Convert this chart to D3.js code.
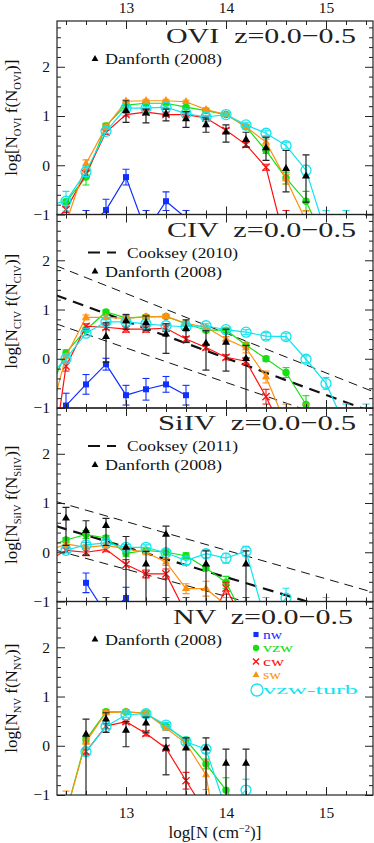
<!DOCTYPE html>
<html>
<head>
<meta charset="utf-8">
<script src="https://cdn.jsdelivr.net/npm/d3@7"></script>
<style>
html,body{margin:0;padding:0;background:#fff;}
svg{display:block;}
</style>
</head>
<body>
<svg id="chart" width="374" height="843"></svg>
<script>
// ================= DATA =================
const logN = [12.2,12.4,12.6,12.8,13.0,13.2,13.4,13.6,13.8,14.0,14.2,14.4,14.6,14.8,15.0,15.2,15.4];
const xMajorTicks = [13,14,15];
const yMajorTicks = [-1,0,1,2];
const ions = ["OVI","CIV","SiIV","NV"];
const redshiftRange = "z=0.0\u22120.5";
const modelNames = ["nw","vzw","cw","sw","vzw-turb"];
const danforthLabel = "Danforth (2008)";
const cookseyLabels = [null,"Cooksey (2010)","Cooksey (2011)",null];

// ---- OVI ----
const oviNw     = [null,null,-1.30,-0.91,-0.24,-1.35,-0.73,-1.07,null,null,null,null,null,null,null,null,null];
const oviNwErr  = [0,0,0.38,0.22,0.16,0.43,0.19,0.15,0,0,0,0,0,0,0,0,0];
const oviVzw    = [null,-0.74,-0.24,0.80,1.22,1.26,1.26,1.18,1.11,1.03,0.78,0.30,-0.26,-0.73,-1.60,null,null];
const oviVzwErr = [0,0.05,0.16,0.05,0.04,0.03,0.03,0.03,0.03,0.03,0.04,0.06,0.12,0.20,0,0,0];
const oviCw     = [-1.30,-0.90,-0.17,0.67,1.03,1.08,1.03,1.03,0.96,0.71,0.42,-0.04,-1.64,null,null,null,null];
const oviCwErr  = [0,0.06,0.05,0.04,0.03,0.03,0.03,0.03,0.03,0.04,0.05,0.06,0.72,0,0,0,0];
const oviSw     = [null,-1.18,0.03,0.78,1.30,1.31,1.31,1.29,1.13,1.03,0.78,0.47,-0.28,-1.13,null,null,null];
const oviSwErr  = [0,0,0.08,0.04,0.03,0.03,0.03,0.03,0.03,0.03,0.04,0.06,0.10,0.21,0,0,0];
const oviTurb   = [-0.82,-0.73,-0.13,0.69,1.16,1.16,1.18,1.05,0.98,1.03,0.82,0.65,0.40,-0.10,-1.39,-1.30,null];
const oviTurbErr= [0,0.20,0.10,0.04,0.03,0.03,0.03,0.03,0.03,0.03,0.04,0.05,0.07,0.10,0.47,0.38,0];
const oviDanX   = [13.0,13.2,13.4,13.6,13.8,14.0,14.2,14.4,14.6,14.8];
const oviDan    = [1.11,1.06,1.04,0.94,0.82,0.67,0.52,0.35,-0.07,-0.22];
const oviDanHi  = [0.20,0.08,0.10,0.15,0.14,0.15,0.15,0.22,0.37,0.43];
const oviDanLo  = [0.24,0.20,0.14,0.17,0.15,0.20,0.15,0.25,0.47,0.53];

// ---- CIV ----
const civNw     = [null,-0.95,-0.52,-0.11,-0.74,-0.62,-0.52,-0.74,null,null,null,null,null,null,null,null,null];
const civNwErr  = [0,0.25,0.20,0.12,0.20,0.22,0.16,0.20,0,0,0,0,0,0,0,0,0];
const civVzw    = [-0.80,0.12,0.59,0.95,0.83,0.85,0.86,0.71,0.58,0.58,0.28,0.00,-0.28,-0.93,-1.60,null,null];
const civVzwErr = [0,0.06,0.05,0.04,0.04,0.04,0.04,0.04,0.04,0.04,0.05,0.05,0.10,0.18,0,0,0];
const civCw     = [-3.00,-0.15,0.66,0.64,0.60,0.60,0.62,0.40,0.23,0.03,-0.05,-0.77,-1.60,null,null,null,null];
const civCwErr  = [0,0.10,0.05,0.05,0.06,0.06,0.06,0.05,0.05,0.05,0.07,0.15,0,0,0,0,0];
const civSw     = [-1.47,0.05,0.84,0.84,0.82,0.85,0.86,0.72,0.64,0.40,0.22,-0.37,-1.34,-1.40,null,null,null];
const civSwErr  = [0,0.05,0.05,0.04,0.04,0.04,0.04,0.04,0.04,0.05,0.10,0.12,0.42,0.48,0,0,0];
const civTurb   = [-0.42,0.00,0.52,0.75,0.75,0.71,0.67,0.65,0.67,0.59,0.54,0.46,0.45,-0.01,-0.50,-1.40,-1.40];
const civTurbErr= [0,0.06,0.05,0.04,0.04,0.04,0.04,0.04,0.04,0.04,0.05,0.07,0.07,0.07,0.12,0.48,0.48];
const civDanX   = [12.8,13.0,13.2,13.4,13.6,13.8,14.0,14.2];
const civDan    = [0.45,0.77,0.73,0.50,0.61,0.31,0.33,0.00];
const civDanHi  = [0.28,0.13,0.14,0.21,0.18,0.26,0.27,0.27];
const civDanLo  = [0.52,0.17,0.15,0.39,0.28,0.54,0.58,1.00];
const civCookseyX   = [12.3,15.5];
const civCookseyMid = [1.29,-1.11];
const civCookseyHi  = [1.89,-0.69];
const civCookseyLo  = [0.71,-1.53];

// ---- SiIV ----
const siivNw     = [null,null,-0.62,-1.25,-0.93,null,-1.30,null,null,null,null,null,null,null,null,null,null];
const siivNwErr  = [0,0,0.20,0.33,0.22,0,0.38,0,0,0,0,0,0,0,0,0,0];
const siivVzw    = [0.10,0.25,0.36,0.29,-0.02,0.04,0.00,-0.07,-0.32,-0.61,-1.40,null,null,null,null,null,null];
const siivVzwErr = [0,0.05,0.08,0.05,0.06,0.05,0.05,0.06,0.05,0.12,0,0,0,0,0,0,0];
const siivCw     = [-0.20,0.04,0.00,0.06,-0.25,-0.44,-0.44,-1.24,-1.60,-0.73,-1.50,null,null,null,null,null,null];
const siivCwErr  = [0,0.05,0.07,0.05,0.10,0.08,0.10,0.32,0,0.12,0.58,0,0,0,0,0,0];
const siivSw     = [0.00,0.17,0.10,0.14,0.07,0.00,-0.20,-0.74,-0.74,-1.07,null,null,null,null,null,null,null];
const siivSwErr  = [0,0.05,0.05,0.05,0.05,0.05,0.07,0.10,0.15,0.15,0,0,0,0,0,0,0];
const siivTurb   = [null,0.04,0.15,0.19,0.10,0.10,-0.01,-0.17,-0.03,-0.12,0.02,-1.44,-0.93,null,-1.30,null,null];
const siivTurbErr= [0,0.05,0.05,0.05,0.06,0.05,0.06,0.08,0.08,0.10,0.10,0.52,0.20,0,0.38,0,0];
const siivDanX   = [12.4,12.6,12.8,13.0,13.2,13.4,13.8,14.2];
const siivDan    = [0.69,0.44,0.54,0.10,-0.24,0.36,-0.24,-0.24];
const siivDanHi  = [0.22,0.20,0.15,0.22,0.26,0.17,0.27,0.27];
const siivDanLo  = [0.55,0.50,0.40,1.20,1.00,1.40,1.00,1.00];
const siivCookseyX   = [12.3,15.5];
const siivCookseyMid = [0.53,-1.42];
const siivCookseyHi  = [1.03,-0.83];
const siivCookseyLo  = [0.04,-1.72];

// ---- NV ----
const nvNw     = [null,null,null,null,null,null,null,null,null,null,null,null,null,null,null,null,null];
const nvNwErr  = [0,0,0,0,0,0,0,0,0,0,0,0,0,0,0,0,0];
const nvVzw    = [null,-1.37,0.12,0.69,0.69,0.66,0.39,0.12,-0.37,-0.90,-1.50,null,null,null,null,null,null];
const nvVzwErr = [0,0,0.05,0.04,0.04,0.04,0.04,0.05,0.10,0.25,0,0,0,0,0,0,0];
const nvCw     = [null,null,-0.12,0.40,0.49,0.25,-0.05,-0.71,-1.35,null,null,null,null,null,null,null,null];
const nvCwErr  = [0,0,0.05,0.05,0.04,0.05,0.05,0.17,0,0,0,0,0,0,0,0,0];
const nvSw     = [null,-1.37,0.08,0.67,0.69,0.66,0.36,0.05,-0.59,-3.00,null,null,null,null,null,null,null];
const nvSwErr  = [0,0.45,0.05,0.04,0.04,0.04,0.05,0.10,0.30,0,0,0,0,0,0,0,0];
const nvTurb   = [null,null,-0.12,0.39,0.63,0.65,0.42,0.08,-0.07,-1.30,-0.90,null,null,null,null,null,null];
const nvTurbErr= [0,0,0.08,0.05,0.05,0.05,0.05,0.06,0.08,0,0.22,0,0,0,0,0,0];
const nvDanX   = [12.6,12.8,13.0,13.2,13.4,13.6,13.8,14.0,14.2];
const nvDan    = [0.23,0.54,0.31,0.46,-0.05,-0.05,-0.05,-0.36,-0.36];
const nvDanHi  = [0.31,0.13,0.18,0.12,0.21,0.21,0.21,0.29,0.29];
const nvDanLo  = [1.30,0.27,0.33,0.20,0.54,1.00,1.00,1.00,1.00];

// ================= STYLE / LAYOUT =================
const modelStyle = {
  "nw":       {color:"#1030ff", marker:"square"},
  "vzw":      {color:"#14e014", marker:"dot"},
  "cw":       {color:"#ff1010", marker:"x"},
  "sw":       {color:"#ff9010", marker:"tri"},
  "vzw-turb": {color:"#10e4f0", marker:"ocircle"}
};
const serif = "'Liberation Serif','DejaVu Serif',serif";
const left = 57, right = 373, top0 = 21, ph = 193.5;
const yDomain = [-1, 2.93];

const panels = [
  {series:[[oviNw,oviNwErr],[oviVzw,oviVzwErr],[oviCw,oviCwErr],[oviSw,oviSwErr],[oviTurb,oviTurbErr]],
   dan:[oviDanX,oviDan,oviDanHi,oviDanLo], cook:null},
  {series:[[civNw,civNwErr],[civVzw,civVzwErr],[civCw,civCwErr],[civSw,civSwErr],[civTurb,civTurbErr]],
   dan:[civDanX,civDan,civDanHi,civDanLo], cook:[civCookseyX,civCookseyMid,civCookseyHi,civCookseyLo]},
  {series:[[siivNw,siivNwErr],[siivVzw,siivVzwErr],[siivCw,siivCwErr],[siivSw,siivSwErr],[siivTurb,siivTurbErr]],
   dan:[siivDanX,siivDan,siivDanHi,siivDanLo], cook:[siivCookseyX,siivCookseyMid,siivCookseyHi,siivCookseyLo]},
  {series:[[nvNw,nvNwErr],[nvVzw,nvVzwErr],[nvCw,nvCwErr],[nvSw,nvSwErr],[nvTurb,nvTurbErr]],
   dan:[nvDanX,nvDan,nvDanHi,nvDanLo], cook:null}
];
const titleLen = [190,189,198,180];
const titleEnd = [356,356,356,353];

const svg = d3.select("#chart");
const x = d3.scaleLinear().domain([12.31, 15.47]).range([left, right]);
const xMinor = d3.range(12.4, 15.45, 0.2).map(v => +v.toFixed(1));
const yMinor = d3.range(-0.8, 2.95, 0.2).map(v => +v.toFixed(1));
const fmt = d => d < 0 ? "\u2212" + Math.abs(d) : String(d);

function drawMarker(g, type, cx, cy, color, scale) {
  const s = scale || 1;
  if (type === "square") {
    g.append("rect").attr("x", cx - 3*s).attr("y", cy - 3*s).attr("width", 6*s).attr("height", 6*s).attr("fill", color);
  } else if (type === "dot") {
    g.append("circle").attr("cx", cx).attr("cy", cy).attr("r", 3.7*s).attr("fill", color);
  } else if (type === "x") {
    const a = 3.6*s;
    g.append("path").attr("d", `M${cx-a},${cy-a}L${cx+a},${cy+a}M${cx-a},${cy+a}L${cx+a},${cy-a}`)
      .attr("stroke", color).attr("stroke-width", 1.3).attr("fill", "none");
  } else if (type === "tri") {
    g.append("path").attr("d", d3.symbol(d3.symbolTriangle, 28*s*s)()).attr("transform", `translate(${cx},${cy})`).attr("fill", color);
  } else if (type === "ocircle") {
    g.append("circle").attr("cx", cx).attr("cy", cy).attr("r", 5*s).attr("fill", "none").attr("stroke", color).attr("stroke-width", 1.3);
  }
}

function errBar(g, cx, y1, y2, color, w) {
  g.append("line").attr("x1", cx).attr("x2", cx).attr("y1", y1).attr("y2", y2).attr("stroke", color).attr("stroke-width", w);
  [y1, y2].forEach(yy => g.append("line").attr("x1", cx - 3.5).attr("x2", cx + 3.5).attr("y1", yy).attr("y2", yy)
    .attr("stroke", color).attr("stroke-width", w));
}

panels.forEach((p, i) => {
  const top = top0 + i*ph, bottom = top + ph;
  const y = d3.scaleLinear().domain(yDomain).range([bottom, top]);
  const clipId = "clip" + i;
  svg.append("clipPath").attr("id", clipId).append("rect")
    .attr("x", left).attr("y", top).attr("width", right - left).attr("height", ph);
  const plot = svg.append("g").attr("clip-path", `url(#${clipId})`);

  // Cooksey power-law fits
  if (p.cook) {
    const [cx, mid, hi, lo] = p.cook;
    const ln = d3.line().x(d => x(d[0])).y(d => y(d[1]));
    [[hi,1,"9,6"],[lo,1,"9,6"],[mid,2.2,"11,7"]].forEach(([arr, w, da]) => {
      plot.append("path").attr("d", ln(cx.map((v, k) => [v, arr[k]])))
        .attr("fill", "none").attr("stroke", "#111").attr("stroke-width", w).attr("stroke-dasharray", da);
    });
  }

  // model series
  [0, 1, 2, 3, 4].forEach(m => {
    const [vals, errs] = p.series[m];
    const st = modelStyle[modelNames[m]];
    const pts = logN.map((n, k) => ({n, v: vals[k], e: errs[k]}));
    const line = d3.line().defined(d => d.v !== null).x(d => x(d.n)).y(d => y(d.v));
    plot.append("path").attr("d", line(pts)).attr("fill", "none").attr("stroke", st.color).attr("stroke-width", 1.2);
    const gg = plot.append("g");
    pts.filter(d => d.v !== null && d.e > 0).forEach(d => errBar(gg, x(d.n), y(d.v - d.e), y(d.v + d.e), st.color, 1.1));
    pts.filter(d => d.v !== null).forEach(d => drawMarker(gg, st.marker, x(d.n), y(d.v), st.color));
  });

  // Danforth (2008) data
  const [dx, dv, dh, dl] = p.dan;
  const dg = plot.append("g");
  dx.forEach((n, k) => errBar(dg, x(n), y(dv[k] - dl[k]), y(dv[k] + dh[k]), "#222", 1.2));
  dx.forEach((n, k) => drawMarker(dg, "tri", x(n), y(dv[k]), "#000"));

  // axes
  const ax = svg.append("g").attr("class", "axes");
  const styleAxis = sel => {
    sel.select(".domain").remove();
    sel.selectAll("line").attr("stroke", "#222").attr("stroke-width", 1);
    sel.selectAll("text").attr("font-family", serif).attr("font-size", 15.5).attr("fill", "#111");
  };
  const xm = xMinor.filter(v => !xMajorTicks.includes(v));
  const ym = yMinor.filter(v => !yMajorTicks.includes(v));
  ax.append("g").attr("transform", `translate(0,${bottom})`)
    .call(d3.axisBottom(x).tickValues(xMajorTicks).tickSize(-8).tickPadding(12).tickFormat(i === 3 ? fmt : () => "")).call(styleAxis);
  ax.append("g").attr("transform", `translate(0,${bottom})`)
    .call(d3.axisBottom(x).tickValues(xm).tickSize(-4).tickFormat(() => "")).call(styleAxis);
  ax.append("g").attr("transform", `translate(0,${top})`)
    .call(d3.axisTop(x).tickValues(xMajorTicks).tickSize(-8).tickPadding(8.5).tickFormat(i === 0 ? fmt : () => "")).call(styleAxis);
  ax.append("g").attr("transform", `translate(0,${top})`)
    .call(d3.axisTop(x).tickValues(xm).tickSize(-4).tickFormat(() => "")).call(styleAxis);
  ax.append("g").attr("transform", `translate(${left},0)`)
    .call(d3.axisLeft(y).tickValues(yMajorTicks).tickSize(-8).tickPadding(7).tickFormat(fmt)).call(styleAxis);
  ax.append("g").attr("transform", `translate(${left},0)`)
    .call(d3.axisLeft(y).tickValues(ym).tickSize(-4).tickFormat(() => "")).call(styleAxis);
  ax.append("g").attr("transform", `translate(${right},0)`)
    .call(d3.axisRight(y).tickValues(yMajorTicks).tickSize(-8).tickFormat(() => "")).call(styleAxis);
  ax.append("g").attr("transform", `translate(${right},0)`)
    .call(d3.axisRight(y).tickValues(ym).tickSize(-4).tickFormat(() => "")).call(styleAxis);
  svg.append("rect").attr("x", left).attr("y", top).attr("width", right - left).attr("height", ph)
    .attr("fill", "none").attr("stroke", "#222").attr("stroke-width", 1.2);

  // panel title
  svg.append("text").attr("x", titleEnd[i]).attr("y", top + 22).attr("text-anchor", "end")
    .attr("font-family", serif).attr("font-size", 22).attr("fill", "#222")
    .attr("textLength", titleLen[i]).attr("lengthAdjust", "spacingAndGlyphs")
    .style("white-space", "pre").text(ions[i] + "  " + redshiftRange);

  // y-axis label
  const yl = svg.append("text").attr("transform", `translate(17,${(top + bottom)/2}) rotate(-90)`)
    .attr("text-anchor", "middle").attr("font-family", serif).attr("font-size", 17).attr("fill", "#111");
  yl.append("tspan").text("log[N");
  yl.append("tspan").attr("font-size", 10.5).attr("dy", 4).text(ions[i]);
  yl.append("tspan").attr("dy", -4).text(" f(N");
  yl.append("tspan").attr("font-size", 10.5).attr("dy", 4).text(ions[i]);
  yl.append("tspan").attr("dy", -4).text(")]");

  // legends
  const lg = svg.append("g");
  let row = top + 38;
  if (cookseyLabels[i]) {
    lg.append("line").attr("x1", 88).attr("x2", 116).attr("y1", row).attr("y2", row)
      .attr("stroke", "#111").attr("stroke-width", 2).attr("stroke-dasharray", "12,7");
    lg.append("text").attr("x", 127).attr("y", row + 5).attr("font-family", serif).attr("font-size", 15)
      .attr("fill", "#111").attr("textLength", 111).attr("lengthAdjust", "spacingAndGlyphs").text(cookseyLabels[i]);
    row += 19;
  }
  drawMarker(lg, "tri", 95, row, "#000", 0.85);
  lg.append("text").attr("x", 105).attr("y", row + 5).attr("font-family", serif).attr("font-size", 15)
    .attr("fill", "#111").attr("textLength", 117).attr("lengthAdjust", "spacingAndGlyphs").text(danforthLabel);

  if (i === 3) {
    const rows = [33, 46.5, 60, 73.5, 88.5];
    const lens = [19, 30, 21, 18, 95];
    modelNames.forEach((m, k) => {
      const st = modelStyle[m];
      const ry = top + rows[k];
      drawMarker(lg, st.marker, k === 4 ? 257 : 256, ry, st.color, k === 4 ? 1.2 : 0.85);
      lg.append("text").attr("x", 263).attr("y", ry + 4).attr("font-family", serif).attr("font-size", 11.5)
        .attr("fill", st.color).attr("textLength", lens[k]).attr("lengthAdjust", "spacingAndGlyphs").text(m);
    });
  }
});

// x-axis title
const xt = svg.append("text").attr("x", 215).attr("y", 838).attr("text-anchor", "middle")
  .attr("font-family", serif).attr("font-size", 17).attr("fill", "#111");
xt.append("tspan").text("log[N (cm");
xt.append("tspan").attr("font-size", 10.5).attr("dy", -6).text("\u22122");
xt.append("tspan").attr("dy", 6).text(")]");
</script>
</body>
</html>
